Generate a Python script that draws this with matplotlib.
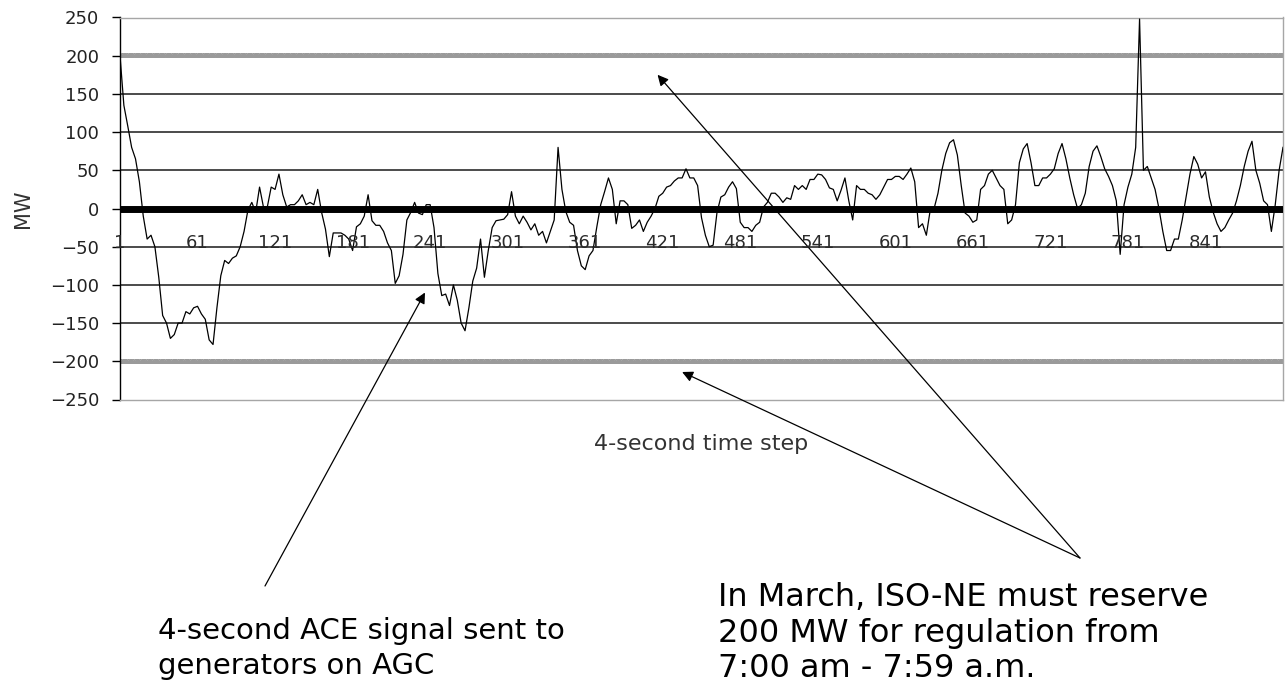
import matplotlib.pyplot as plt

plt.rcParams['font.family'] = ['DejaVu Sans']
plt.rcParams['hatch.linewidth'] = 0.8

# ACE signal (MW), every 3rd 4-second step
ace_mw = [
    200, 135, 108, 80, 65, 35, -10, -40, -35, -50,
    -90, -140, -150, -170, -165, -150, -150, -135, -138, -130,
    -128, -138, -145, -172, -178, -130, -88, -68, -72, -65,
    -62, -50, -30, -2, 8, -5, 28, 2, 2, 28,
    25, 45, 18, 2, 5, 5, 10, 18, 5, 8,
    5, 25, -5, -27, -63, -32, -32, -32, -35, -40,
    -55, -24, -20, -10, 18, -16, -22, -22, -30, -45,
    -55, -98, -88, -60, -15, -5, 8, -6, -8, 5,
    5, -25, -85, -114, -112, -127, -100, -120, -150, -160,
    -130, -95, -78, -40, -90, -55, -25, -16, -15, -14,
    -8, 22, -10, -20, -10, -18, -28, -20, -35, -30,
    -45, -30, -15, 80, 25, -4, -18, -22, -55, -75,
    -80, -62, -55, -24, 5, 22, 40, 25, -20, 10,
    10, 5, -26, -22, -15, -30, -18, -10, 0, 16,
    20, 28, 30, 36, 40, 40, 52, 40, 40, 30,
    -12, -35, -50, -48, -5, 15, 18, 28, 35, 26,
    -18, -25, -25, -30, -22, -18, 2, 8, 20, 20,
    15, 8, 14, 12, 30, 25, 30, 25, 38, 38,
    45, 44, 38, 27, 25, 10, 24, 40, 10, -15,
    30, 25, 25, 20, 18, 12, 18, 28, 38, 38,
    42, 42, 38, 45, 53, 35, -25, -20, -35, -2,
    0, 20, 50, 72, 86, 90, 70, 30, -6, -10,
    -18, -15, 25, 30, 45, 50, 40, 30, 25, -20,
    -15, 5, 60, 78, 85, 60, 30, 30, 40, 40,
    45, 52, 72, 85, 65, 40, 18, 0, 5, 20,
    55, 75, 82, 68, 52, 42, 30, 10, -60, 5,
    28, 45, 80, 248, 50, 55, 40, 25, 0, -30,
    -55, -55, -40, -40, -15, 15, 45, 68, 58, 40,
    48, 15, -5, -20, -30, -25, -15, -6, 10, 30,
    55, 75, 88, 50, 33, 10, 5, -30, 5, 50,
    80,
]
time_step = list(range(1, 3 * len(ace_mw), 3))

tick_steps = [1, 61, 121, 181, 241, 301, 361, 421, 481, 541, 601, 661, 721, 781, 841]
y_ticks = [250, 200, 150, 100, 50, 0, -50, -100, -150, -200, -250]
grid_mw = [150, 100, 50, -50, -100, -150]
reserve_mw = [200, -200]

fig = plt.figure(figsize=(12.86, 6.94), dpi=100)
ax = fig.add_axes([120 / 1286, 1 - 399.5 / 694, 1163 / 1286, 382 / 694])

for v in grid_mw:
    ax.axhline(v, color='#1a1a1a', lw=1.1, zorder=1)
for v in reserve_mw:
    ax.axhspan(v - 3.2, v + 3.2, facecolor='#dcdcdc', edgecolor='#9a9a9a',
               hatch='x' * 14, lw=0, zorder=1)
ax.axhline(0, color='black', lw=5, zorder=3)

ax.plot(time_step, ace_mw, color='black', lw=0.9, zorder=4)

ax.set_xlim(1, 901)
ax.set_ylim(-250, 250)
ax.set_yticks(y_ticks)
ax.set_xticks([])
ax.tick_params(axis='y', length=6, width=1, pad=9, labelsize=13, labelcolor='#222222')
for name, sp in ax.spines.items():
    sp.set_color('black' if name == 'left' else '#a6a6a6')
    sp.set_linewidth(1)

for s in tick_steps:
    ax.text(s, -45, str(s), ha='center', va='center', fontsize=13,
            color='#2a2a2a', zorder=5)

ax.set_ylabel('MW', fontsize=15, color='#333333', va='center')
ax.yaxis.set_label_coords(-0.083, 0.5)
ax.set_xlabel('4-second time step', fontsize=16, color='#333333')
ax.xaxis.set_label_coords(0.5, -0.09)

# annotations
arrow = dict(arrowstyle='-|>', color='black', lw=0.9, mutation_scale=16,
             shrinkA=0, shrinkB=0)
ax.annotate('', xy=(237, -110), xytext=(265 / 1286, 1 - 586 / 694),
            textcoords='figure fraction', arrowprops=arrow)
ax.annotate('', xy=(417, 175), xytext=(1080 / 1286, 1 - 558 / 694),
            textcoords='figure fraction', arrowprops=arrow)
ax.annotate('', xy=(436, -214), xytext=(1080 / 1286, 1 - 558 / 694),
            textcoords='figure fraction', arrowprops=arrow)

fig.text(158 / 1286, 1 - 617 / 694, '4-second ACE signal sent to\ngenerators on AGC',
         fontsize=21, ha='left', va='top', linespacing=1.3)
fig.text(718 / 1286, 1 - 582 / 694,
         'In March, ISO-NE must reserve\n200 MW for regulation from\n7:00 am - 7:59 a.m.',
         fontsize=23, ha='left', va='top', linespacing=1.19)

fig.savefig('out.png', dpi=100)
